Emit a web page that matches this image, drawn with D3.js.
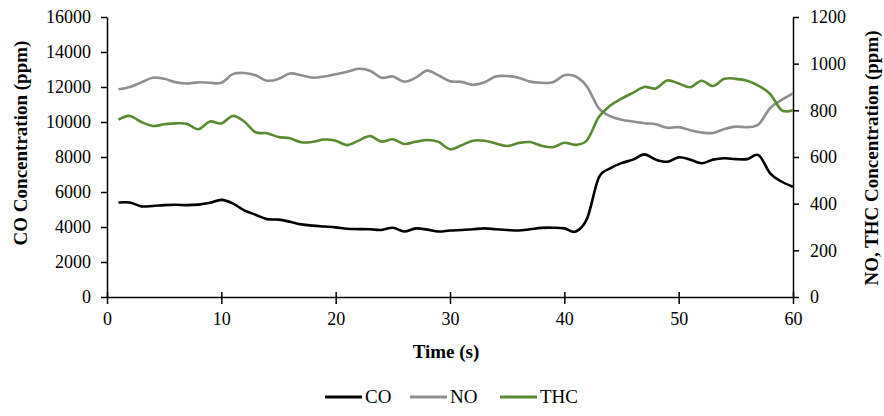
<!DOCTYPE html>
<html><head><meta charset="utf-8">
<script src="https://cdn.jsdelivr.net/npm/d3@7"></script>
<style>body{margin:0;background:#fff}svg{display:block}text{font-family:"Liberation Serif","Times New Roman",serif}</style>
</head><body>
<svg id="c" width="884" height="416"></svg>
<script>
const time = d3.range(1, 61);
const co = [5400,5400,5180,5200,5250,5270,5250,5280,5380,5550,5350,4950,4700,4450,4420,4300,4150,4080,4030,3980,
  3900,3880,3870,3830,3960,3740,3920,3850,3740,3800,3830,3870,3920,3870,3830,3800,3870,3950,3960,3920,
  3740,4500,6800,7350,7650,7850,8150,7850,7730,7980,7850,7640,7850,7930,7880,7880,8100,7070,6600,6300];
const no = [890,900,920,940,935,920,915,920,918,918,955,960,950,927,935,958,950,940,945,955,
  965,978,970,940,945,923,940,970,950,925,922,909,920,945,947,940,923,918,920,950,
  945,900,810,775,760,752,745,740,725,728,715,705,703,720,730,728,740,810,845,873];
const thc = [760,776,750,733,740,744,742,719,752,744,776,752,706,702,686,680,663,665,675,670,
  651,670,690,666,676,656,665,673,665,633,650,670,670,658,647,660,664,648,642,661,
  652,673,770,820,850,875,900,894,928,915,899,927,904,935,935,927,905,870,801,800];
const xTicks = [0,10,20,30,40,50,60];
const yLeftTicks = [0,2000,4000,6000,8000,10000,12000,14000,16000];
const yRightTicks = [0,200,400,600,800,1000,1200];
const seriesNames = ["CO","NO","THC"];
const colors = {CO:"#000000", NO:"#8f8f8f", THC:"#5a8a32"};

const svg = d3.select("#c");
const L=107, R=793, T=17, B=297;
const FONT = '"Liberation Serif","Times New Roman",serif';
const x = d3.scaleLinear().domain([0,60]).range([L,R]);
const yL = d3.scaleLinear().domain([0,16000]).range([B,T]);
const yR = d3.scaleLinear().domain([0,1200]).range([B,T]);

function styleAxis(g){
  g.selectAll("path").attr("stroke","#000").attr("stroke-width",1.5);
  g.selectAll("line").attr("stroke","#000").attr("stroke-width",1.5);
  g.selectAll("text").attr("font-size",18).attr("fill","#000").attr("font-family",FONT);
}
const gx = svg.append("g").attr("transform",`translate(0,${B})`)
  .call(d3.axisBottom(x).tickValues(xTicks).tickSize(7).tickSizeOuter(0).tickPadding(15));
gx.selectAll(".tick line").attr("y1",-5);
gx.selectAll(".tick text").attr("dy",null).attr("y",28);
styleAxis(gx);
const gl = svg.append("g").attr("transform",`translate(${L},0)`)
  .call(d3.axisLeft(yL).tickValues(yLeftTicks).tickSize(6).tickSizeOuter(0).tickPadding(10).tickFormat(d3.format("d")));
styleAxis(gl);
const gr = svg.append("g").attr("transform",`translate(${R},0)`)
  .call(d3.axisRight(yR).tickValues(yRightTicks).tickSize(6).tickSizeOuter(0).tickPadding(11).tickFormat(d3.format("d")));
styleAxis(gr);

const curve = d3.curveCatmullRom.alpha(0);
const mk = (arr, ys) => d3.line().x((d,i)=>x(time[i])).y(d=>ys(d)).curve(curve)(arr);
svg.append("path").attr("d",mk(no,yR)).attr("fill","none").attr("stroke",colors.NO).attr("stroke-width",2.6);
svg.append("path").attr("d",mk(thc,yR)).attr("fill","none").attr("stroke",colors.THC).attr("stroke-width",2.6);
svg.append("path").attr("d",mk(co,yL)).attr("fill","none").attr("stroke",colors.CO).attr("stroke-width",2.6);

svg.append("text").attr("x",446).attr("y",358).attr("text-anchor","middle").attr("font-size",19).attr("font-weight","bold").text("Time (s)");
svg.append("text").attr("transform",`translate(27,143) rotate(-90)`).attr("text-anchor","middle").attr("font-size",19).attr("font-weight","bold").text("CO Concentration (ppm)");
svg.append("text").attr("transform",`translate(878,158) rotate(-90)`).attr("text-anchor","middle").attr("font-size",19).attr("font-weight","bold").text("NO, THC Concentration (ppm)");

const lg = svg.append("g");
const lx = [325,410,500];
seriesNames.forEach((n,i)=>{
  lg.append("line").attr("x1",lx[i]).attr("x2",lx[i]+37).attr("y1",397).attr("y2",397).attr("stroke",colors[n]).attr("stroke-width",2.8);
  lg.append("text").attr("x",lx[i]+40).attr("y",403).attr("font-size",19).text(n);
});
</script>
</body></html>
